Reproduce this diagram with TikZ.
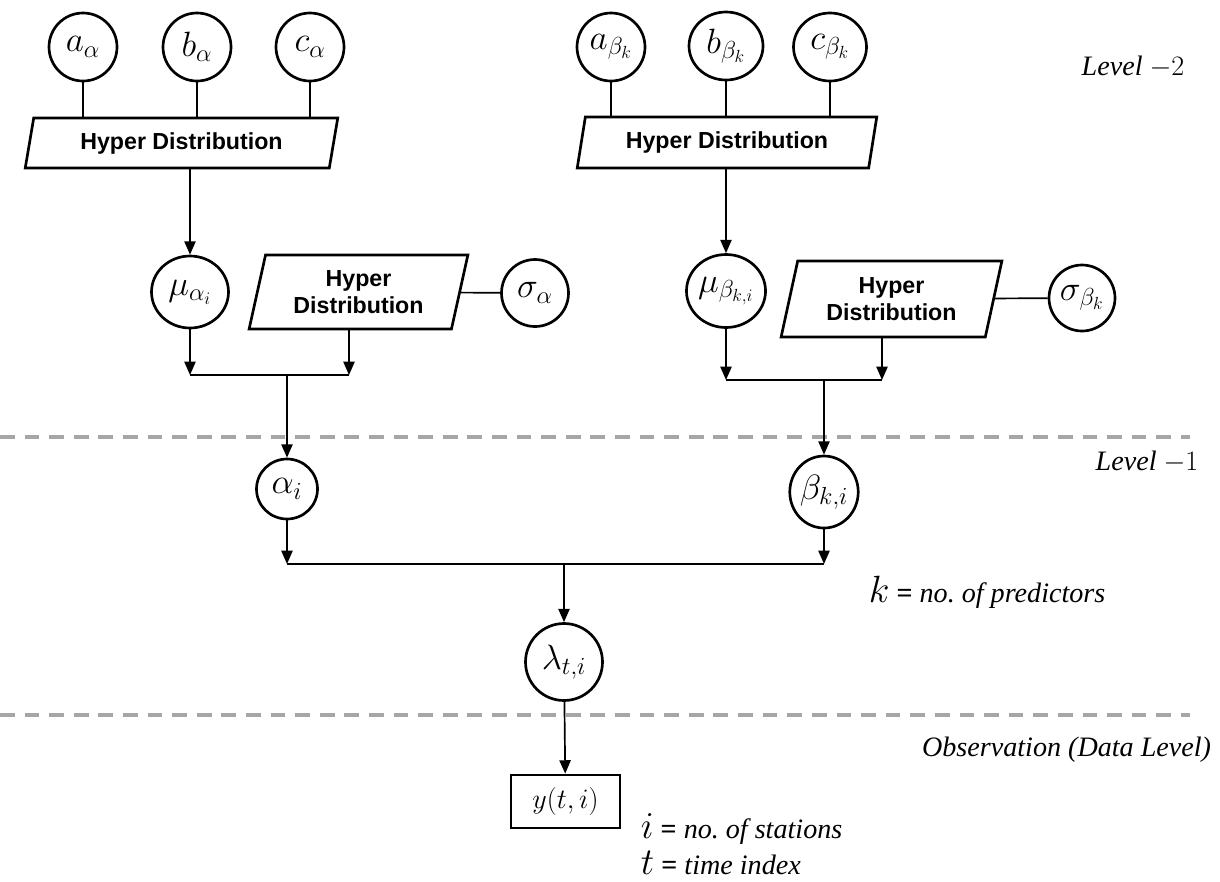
\RequirePackage{fix-cm}
\documentclass[tikz,border=0pt]{standalone}
\usepackage{fontspec}
\setmainfont{Liberation Serif}
\newfontfamily\hdfont{Liberation Sans}
\usetikzlibrary{shapes.geometric,arrows.meta}

\tikzset{
  rv/.style={ellipse, draw, line width=1.9pt, inner sep=0pt,
    font=\fontsize{25}{27}\selectfont},
  hyper/.style={trapezium, trapezium left angle=75, trapezium right angle=105,
    trapezium stretches=true, draw, line width=1.9pt, inner sep=0pt,
    align=center, font=\hdfont\bfseries\fontsize{16.5}{19}\selectfont},
  obsbox/.style={rectangle, draw, line width=2pt, inner sep=0pt,
    font=\fontsize{20}{22}\selectfont},
  link/.style={line width=1.2pt},
  arr/.style={line width=1.2pt, -{Triangle[length=9.5pt,width=8pt]}},
  lvl/.style={line width=2.4pt, black!35, dash pattern=on 10.5pt off 7pt},
  note/.style={inner sep=0.5pt, font=\itshape\fontsize{20}{24}\selectfont}
}
\newcommand{\bigsym}[1]{{\fontsize{27}{29}\selectfont$#1$}}
\newcommand{\eqsign}{{\upshape\bfseries =}}

\begin{document}
\begin{tikzpicture}[x=0.25mm, y=-0.25mm]
  \useasboundingbox (0,0) rectangle (1220,881);

  % Level 2: hyper parameters
  \node[rv, minimum width=17mm, minimum height=17mm] (aal) at (83,47) {$a_\alpha$};
  \node[rv, minimum width=17mm, minimum height=17mm] (bal) at (197,47) {$b_\alpha$};
  \node[rv, minimum width=17mm, minimum height=17mm] (cal) at (310,47) {$c_\alpha$};
  \node[hyper, minimum width=78.25mm, minimum height=12.5mm] (hda) at (181.5,143) {Hyper Distribution};

  \node[rv, minimum width=17mm, minimum height=17mm] (abe) at (611,47) {$a_{\beta_k}$};
  \node[rv, minimum width=18.5mm, minimum height=17mm] (bbe) at (726,46) {$b_{\beta_k}$};
  \node[rv, minimum width=18.25mm, minimum height=17mm] (cbe) at (830,47) {$c_{\beta_k}$};
  \node[hyper, minimum width=75mm, minimum height=12.75mm] (hdb) at (727,142.5) {Hyper Distribution};

  \node[rv, minimum width=19.25mm, minimum height=18mm] (mua) at (190,292) {$\mu_{\alpha_i}$};
  \node[hyper, minimum width=54.75mm, minimum height=18.5mm] (hdsa) at (358.5,292) {Hyper\\Distribution};
  \node[rv, minimum width=16.75mm, minimum height=16.75mm] (sga) at (535,293) {$\sigma_\alpha$};

  \node[rv, minimum width=19mm, minimum height=18.25mm] (mub) at (726,291) {$\mu_{\beta_{k,i}}$};
  \node[hyper, minimum width=55.25mm, minimum height=19mm] (hdsb) at (891.5,299) {Hyper\\Distribution};
  \node[rv, minimum width=16.5mm, minimum height=16.5mm] (sgb) at (1082,298) {$\sigma_{\beta_k}$};

  % Level 1
  \node[rv, minimum width=15.25mm, minimum height=15mm] (alp) at (287,489) {$\alpha_i$};
  \node[rv, minimum width=15.5mm, minimum height=18mm] (bet) at (824,492) {$\beta_{k,i}$};
  \node[rv, minimum width=19.25mm, minimum height=19.25mm] (lam) at (564,662) {$\lambda_{t,i}$};

  % Observation
  \node[obsbox, minimum width=27.25mm, minimum height=13.25mm] (obs) at (565.5,801.5) {$y(t,i)$};

  % junction points
  \coordinate (jal) at (190,375);
  \coordinate (jar) at (349,375);
  \coordinate (jam) at (287,375);
  \coordinate (jbl) at (726,380);
  \coordinate (jbr) at (882,380);
  \coordinate (jbm) at (824,380);
  \coordinate (jll) at (287,564);
  \coordinate (jlr) at (824,564);
  \coordinate (jlm) at (564,564);

  % level separators
  \draw[lvl] (0,437) -- (1190,437);
  \draw[lvl] (0,715) -- (1190,715);

  % connectors, alpha branch
  \draw[link] (aal) -- (aal |- hda.north);
  \draw[link] (bal) -- (bal |- hda.north);
  \draw[link] (cal) -- (cal |- hda.north);
  \draw[arr] (mua |- hda.south) -- (mua);
  \draw[link] (hdsa) -- (sga);
  \draw[arr] (mua) -- (jal);
  \draw[arr] (hdsa.south -| jar) -- (jar);
  \draw[link] (jal) -- (jar);
  \draw[arr] (jam) -- (alp);

  % connectors, beta branch
  \draw[link] (abe) -- (abe |- hdb.north);
  \draw[link] (bbe) -- (bbe |- hdb.north);
  \draw[link] (cbe) -- (cbe |- hdb.north);
  \draw[arr] (mub |- hdb.south) -- (mub);
  \draw[link] (hdsb) -- (sgb);
  \draw[arr] (mub) -- (jbl);
  \draw[arr] (hdsb.south -| jbr) -- (jbr);
  \draw[link] (jbl) -- (jbr);
  \draw[arr] (jbm) -- (bet);

  % to lambda and data
  \draw[arr] (alp) -- (jll);
  \draw[arr] (bet) -- (jlr);
  \draw[link] (jll) -- (jlr);
  \draw[arr] (jlm) -- (lam);
  \draw[arr] (lam) -- (obs);

  % side notes
  \node[note] (lvtwo) at (1133,67) {Level $-2$};
  \node[note] (lvone) at (1147,462) {Level $-1$};
  \node[note, anchor=east] (lvobs) at (1212,750) {Observation (Data Level)};
  \node[note, anchor=base west] (knote) at (868,602)
    {\bigsym{k} \eqsign{} no.\ of predictors};
  \node[note, anchor=base west] (inote) at (640,838)
    {\bigsym{i} \eqsign{} no.\ of stations};
  \node[note, anchor=base west] (tnote) at (640,874)
    {\bigsym{t} \eqsign{} time index};
\end{tikzpicture}
\end{document}
